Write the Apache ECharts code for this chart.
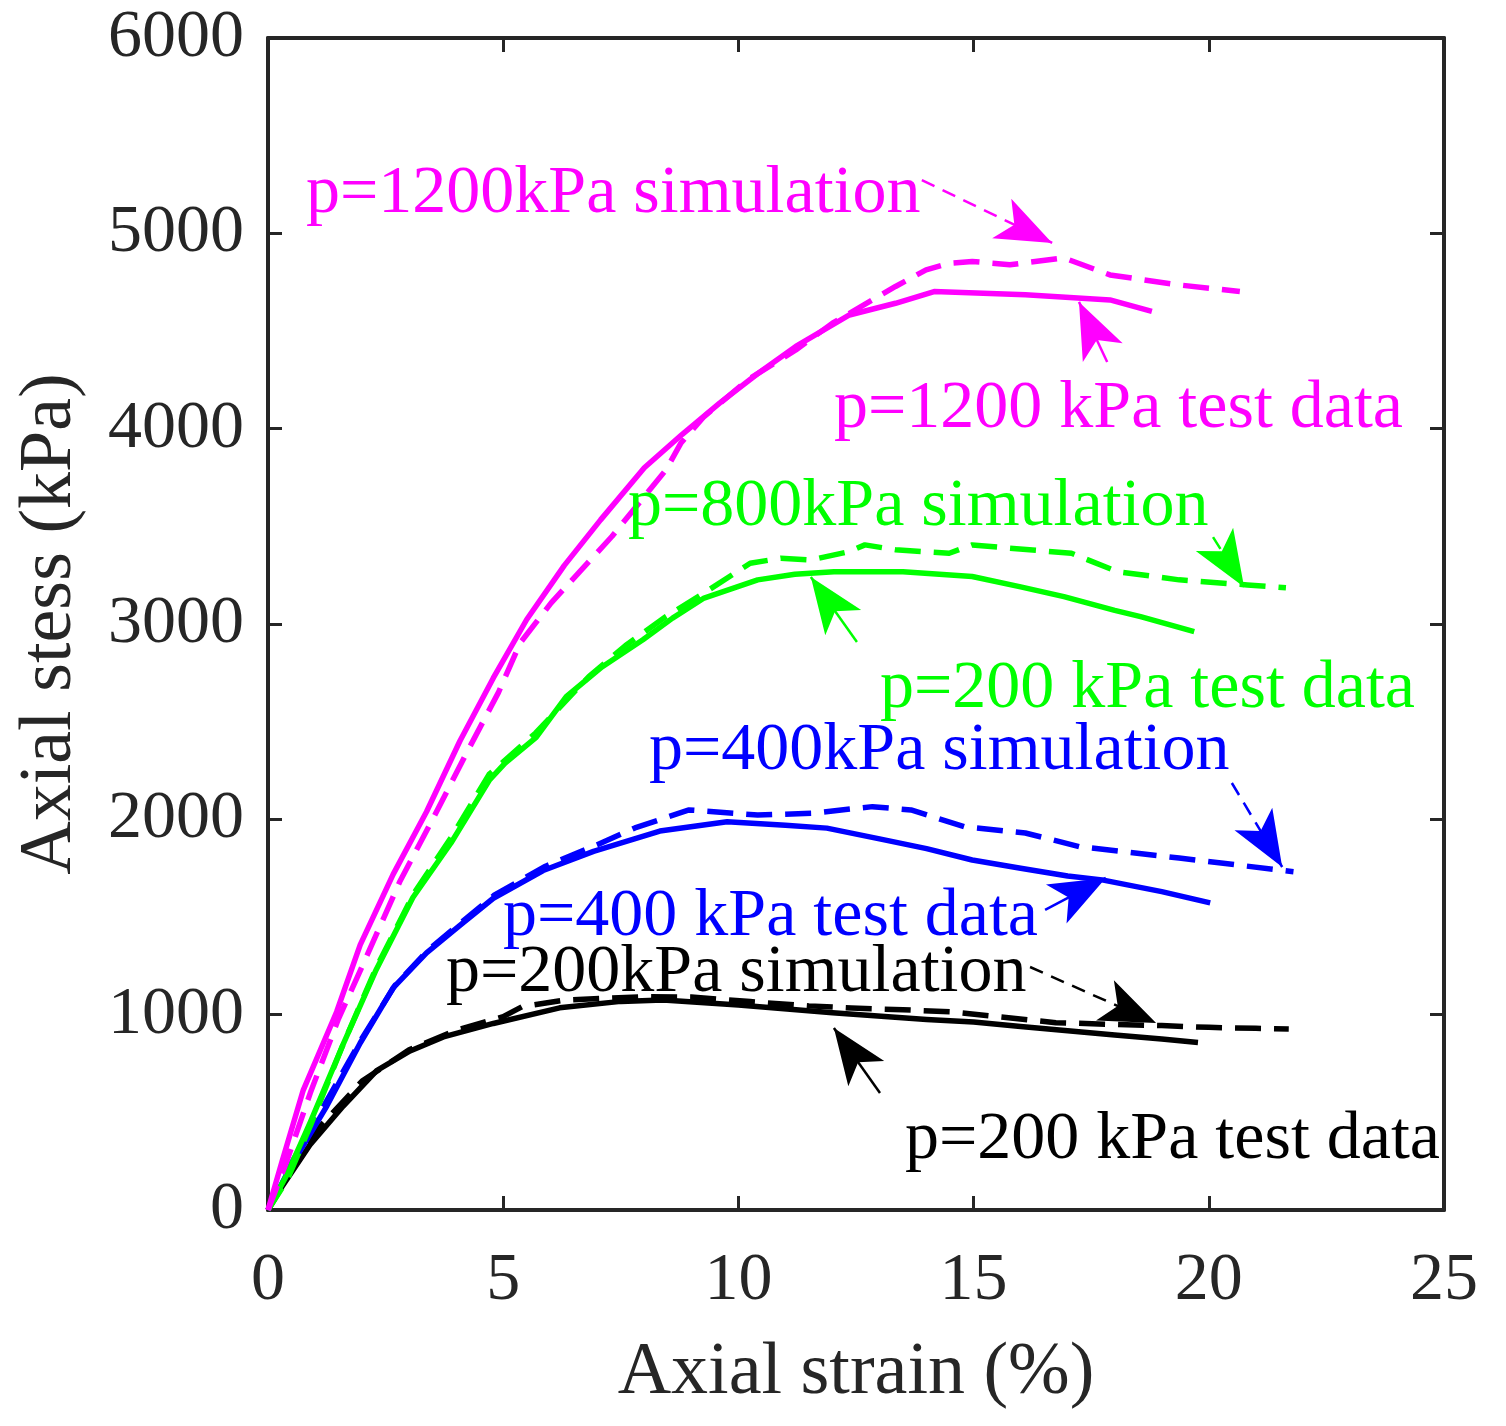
<!DOCTYPE html>
<html><head><meta charset="utf-8">
<script src="https://cdn.jsdelivr.net/npm/echarts@6/dist/echarts.min.js"></script>
<style>html,body{margin:0;padding:0;background:#fff}#c{width:1506px;height:1426px}</style>
</head><body><div id="c"></div>
<script>
// ---- data (strain %, stress kPa) ----
const test200X = [0, 0.3, 0.89, 1.6, 2.31, 3.02, 3.73, 4.79, 6.2, 7.5, 8.4, 10.0, 12.0, 14.0, 15.0, 16.0, 17.0, 18.0, 19.0, 19.77];
const test200Y = [0, 120, 333, 532, 714, 814, 886, 955, 1035, 1068, 1075, 1050, 1010, 975, 962, 940, 918, 896, 875, 857];
const sim200X = [0, 0.5, 1.0, 2.0, 3.0, 4.0, 5.0, 5.4, 6.3, 8.0, 9.0, 10.25, 11.5, 12.4, 13.5, 14.5, 15.5, 16.75, 18.0, 19.0, 20.0, 21.0, 21.7];
const sim200Y = [0, 230, 400, 660, 820, 920, 990, 1041, 1075, 1092, 1090, 1067, 1045, 1034, 1025, 1015, 990, 959, 950, 944, 935, 930, 926];

const test400X = [0, 0.5, 1.25, 1.96, 2.66, 3.37, 4.08, 4.79, 5.85, 6.92, 8.33, 9.76, 11.0, 11.88, 13.0, 14.0, 14.97, 16.0, 17.0, 17.73, 19.0, 20.03];
const test400Y = [0, 230, 532, 855, 1137, 1316, 1457, 1596, 1738, 1836, 1940, 1988, 1970, 1955, 1900, 1850, 1792, 1750, 1710, 1690, 1630, 1572];
const sim400X = [0, 0.5, 1.25, 2.0, 2.7, 3.4, 4.1, 4.8, 5.9, 7.0, 7.8, 8.95, 10.41, 11.55, 12.85, 13.67, 14.8, 16.1, 17.25, 19.37, 21.8];
const sim400Y = [0, 240, 560, 880, 1150, 1330, 1470, 1610, 1760, 1870, 1956, 2048, 2022, 2031, 2065, 2048, 1962, 1930, 1860, 1802, 1732];

const test800X = [0, 0.4, 0.9, 1.6, 2.3, 3.08, 3.89, 4.71, 5.04, 5.7, 6.34, 7.1, 7.97, 8.6, 9.27, 10.41, 11.2, 12.03, 13.5, 14.97, 16.0, 16.92, 18.0, 18.55, 19.69];
const test800Y = [0, 180, 450, 850, 1230, 1600, 1879, 2202, 2288, 2420, 2628, 2780, 2919, 3030, 3133, 3226, 3255, 3268, 3268, 3243, 3190, 3140, 3070, 3038, 2961];
const sim800X = [0, 0.4, 0.9, 1.6, 2.3, 3.1, 3.9, 4.7, 5.69, 6.82, 7.6, 8.46, 9.27, 10.25, 10.9, 11.54, 12.36, 12.69, 13.34, 14.48, 14.97, 15.77, 17.08, 18.06, 19.37, 20.82, 21.64];
const sim800Y = [0, 150, 430, 850, 1240, 1620, 1910, 2230, 2442, 2731, 2890, 3038, 3159, 3311, 3337, 3328, 3371, 3405, 3380, 3362, 3405, 3388, 3362, 3268, 3226, 3200, 3185];

const test1200X = [0, 0.3, 0.75, 1.46, 1.96, 2.66, 3.37, 4.08, 4.79, 5.5, 6.3, 7.07, 8.0, 8.8, 9.6, 10.4, 11.22, 12.36, 13.34, 14.16, 16.1, 17.9, 18.79];
const test1200Y = [0, 250, 614, 1015, 1357, 1718, 2039, 2401, 2724, 3023, 3300, 3533, 3800, 3970, 4131, 4280, 4421, 4582, 4642, 4702, 4685, 4659, 4600];
const sim1200X = [0, 0.4, 0.9, 1.5, 2.1, 2.8, 3.5, 4.2, 4.9, 5.36, 6.02, 7.31, 8.46, 8.78, 9.27, 10.2, 11.22, 12.0, 12.85, 13.34, 13.99, 14.48, 14.97, 15.77, 16.92, 17.9, 19.36, 20.66];
const sim1200Y = [0, 250, 600, 980, 1300, 1680, 2000, 2330, 2650, 2903, 3108, 3448, 3789, 3927, 4062, 4250, 4403, 4540, 4659, 4728, 4813, 4847, 4856, 4839, 4874, 4787, 4736, 4702];

const xTicks = [0, 5, 10, 15, 20, 25];
const yTicks = [0, 1000, 2000, 3000, 4000, 5000, 6000];

// annotation texts and arrows (arrow tail -> tip in data coordinates)
const labelTexts = ['p=1200kPa simulation', 'p=1200 kPa test data', 'p=800kPa simulation', 'p=200 kPa test data',
                    'p=400kPa simulation', 'p=400 kPa test data', 'p=200kPa simulation', 'p=200 kPa test data'];
const arrowTail = [[13.90, 5273], [17.84, 4341], [20.09, 3445], [12.52, 2908], [20.49, 2186], [16.52, 1536], [16.20, 1244], [13.01, 599]];
const arrowTip  = [[16.67, 4951], [17.24, 4649], [20.75, 3190], [11.54, 3241], [21.56, 1756], [17.81, 1700], [18.88, 957], [12.03, 932]];

// ---- layout / style ----
const FONT = '"Liberation Serif","Times New Roman",serif';
const AX = '#262626';
const COLORS = { m: '#FF00FF', g: '#00FF00', b: '#0000FF', k: '#000000' };
const labelPos = [[306, 212], [834, 427], [628, 525], [880, 707], [649, 769], [503, 935], [446, 991], [905, 1158]];
const labelColor = [COLORS.m, COLORS.m, COLORS.g, COLORS.g, COLORS.b, COLORS.b, COLORS.k, COLORS.k];

const zip = (xs, ys) => xs.map((x, i) => [x, ys[i]]);

function arrowML(i, dashed) {
  return {
    silent: true,
    animation: false,
    symbol: ['none', 'arrow'],
    symbolSize: [33, 56],
    label: { show: false },
    lineStyle: { color: labelColor[i], width: 2.5, type: dashed ? [14, 9] : 'solid' },
    emphasis: { disabled: true },
    data: [[{ coord: arrowTail[i] }, { coord: arrowTip[i] }]]
  };
}

function mkSeries(name, xs, ys, color, dashed, arrowIdx) {
  const s = {
    name, type: 'line', data: zip(xs, ys), showSymbol: false, symbol: 'none',
    smooth: false, silent: true,
    lineStyle: { color, width: 5.5, type: dashed ? [26, 13] : 'solid', cap: 'butt', join: 'round' },
    z: 3
  };
  if (arrowIdx !== undefined) s.markLine = arrowML(arrowIdx, dashed);
  return s;
}

const axisCommon = {
  axisLine: { show: true, onZero: false, lineStyle: { color: AX, width: 4 } },
  axisTick: { show: true, inside: true, length: 14, lineStyle: { color: AX, width: 3 } },
  splitLine: { show: false }
};

const chart = echarts.init(document.getElementById('c'), null, { renderer: 'canvas' });
const option = {
  animation: false,
  backgroundColor: '#fff',
  grid: { left: 268, top: 38, right: 62, bottom: 216, show: false, containLabel: false, outerBoundsMode: 'none' },
  xAxis: [
    Object.assign({
      type: 'value', min: xTicks[0], max: xTicks[xTicks.length - 1], interval: xTicks[1] - xTicks[0],
      name: 'Axial strain (%)', nameLocation: 'middle', nameGap: 127,
      nameTextStyle: { fontFamily: FONT, fontSize: 74, color: AX },
      axisLabel: { fontFamily: FONT, fontSize: 68, color: AX, margin: 37, showMinLabel: true, showMaxLabel: true,
                   formatter: v => String(v) }
    }, axisCommon),
    Object.assign({
      type: 'value', position: 'top', min: xTicks[0], max: xTicks[xTicks.length - 1], interval: xTicks[1] - xTicks[0],
      axisLabel: { show: false }
    }, axisCommon)
  ],
  yAxis: [
    Object.assign({
      type: 'value', min: yTicks[0], max: yTicks[yTicks.length - 1], interval: yTicks[1] - yTicks[0],
      name: 'Axial stess (kPa)', nameLocation: 'middle', nameGap: 180,
      nameTextStyle: { fontFamily: FONT, fontSize: 74, color: AX },
      axisLabel: { fontFamily: FONT, fontSize: 68, color: AX, margin: 24, showMinLabel: true, showMaxLabel: true,
                   formatter: v => String(v) }
    }, axisCommon),
    Object.assign({
      type: 'value', position: 'right', min: yTicks[0], max: yTicks[yTicks.length - 1], interval: yTicks[1] - yTicks[0],
      axisLabel: { show: false }
    }, axisCommon)
  ],
  series: [
    mkSeries('p=200 test', test200X, test200Y, COLORS.k, false, 7),
    mkSeries('p=200 sim', sim200X, sim200Y, COLORS.k, true, 6),
    mkSeries('p=400 test', test400X, test400Y, COLORS.b, false, 5),
    mkSeries('p=400 sim', sim400X, sim400Y, COLORS.b, true, 4),
    mkSeries('p=800 test', test800X, test800Y, COLORS.g, false, 3),
    mkSeries('p=800 sim', sim800X, sim800Y, COLORS.g, true, 2),
    mkSeries('p=1200 test', test1200X, test1200Y, COLORS.m, false, 1),
    mkSeries('p=1200 sim', sim1200X, sim1200Y, COLORS.m, true, 0)
  ],
  graphic: labelTexts.map((t, i) => ({
    type: 'text', x: labelPos[i][0], y: labelPos[i][1] - 18, z: 100, silent: true,
    style: { text: t, fill: labelColor[i], font: '68px ' + FONT, align: 'left', verticalAlign: 'middle' }
  }))
};
chart.setOption(option);
</script>
</body></html>
